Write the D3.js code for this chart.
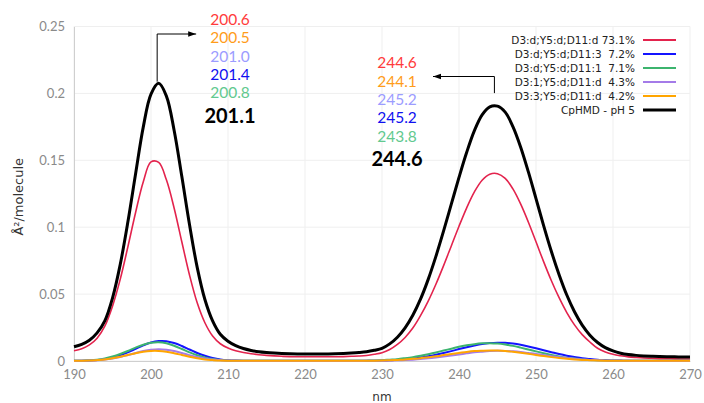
<!DOCTYPE html>
<html><head><meta charset="utf-8">
<script src="https://cdn.jsdelivr.net/npm/d3@7"></script>
<style>body{margin:0;background:#fff}svg{display:block}</style>
</head><body>
<svg id="c" width="704" height="403"></svg>
<script>
// ---- data ----
const wavelengths = [190,191,192,193,194,195,196,197,198,199,200,201,202,203,204,205,206,207,208,209,210,211,212,213,214,215,216,217,218,219,220,221,222,223,224,225,226,227,228,229,230,231,232,233,234,235,236,237,238,239,240,241,242,243,244,245,246,247,248,249,250,251,252,253,254,255,256,257,258,259,260,261,262,263,264,265,266,267,268,269,270];
const cphmd = [0.0107,0.0125,0.0155,0.021,0.030,0.047,0.072,0.104,0.140,0.175,0.1995,0.2075,0.198,0.1725,0.138,0.102,0.070,0.046,0.030,0.020,0.0148,0.0115,0.0093,0.0079,0.0069,0.0063,0.0059,0.0056,0.0054,0.0053,0.0052,0.0052,0.0052,0.0053,0.0054,0.0056,0.0059,0.0063,0.0069,0.0080,0.0095,0.0128,0.0178,0.0248,0.0342,0.0462,0.0610,0.0782,0.0972,0.1172,0.1372,0.1560,0.1722,0.1840,0.1900,0.1905,0.1860,0.1752,0.1600,0.1415,0.1214,0.1010,0.0818,0.0645,0.0493,0.0368,0.0268,0.0193,0.0138,0.0100,0.0075,0.0058,0.0048,0.0042,0.0038,0.0035,0.0033,0.0032,0.0031,0.0030,0.0029];
const s731 = [0.0077,0.0092,0.0120,0.017,0.026,0.041,0.061,0.0854,0.111,0.134,0.1488,0.1484,0.1354,0.1144,0.0891,0.0643,0.0435,0.0286,0.0187,0.0129,0.0097,0.0076,0.0063,0.0054,0.0047,0.0042,0.0038,0.0035,0.0033,0.0032,0.0032,0.0032,0.0032,0.0032,0.0032,0.0033,0.0035,0.0037,0.0041,0.0050,0.0062,0.0086,0.0124,0.0176,0.0246,0.0339,0.0448,0.0574,0.0713,0.0860,0.1007,0.1145,0.1264,0.1351,0.1396,0.1400,0.1365,0.1286,0.1174,0.1039,0.0891,0.0741,0.0600,0.0473,0.0362,0.0270,0.0197,0.0142,0.0095,0.0068,0.0050,0.0039,0.0031,0.0026,0.0022,0.0020,0.0018,0.0017,0.0016,0.0015,0.0015];
const s72 = [0.0001,0.00014,0.0003,0.0007,0.0014,0.0025,0.0042,0.0065,0.0091,0.0117,0.0138,0.0149,0.0148,0.0134,0.0112,0.0086,0.0060,0.0039,0.0023,0.0012,0.0006,0.0003,0.00015,
  0.0001,0.0001,0.0001,0.0001,0.0001,0.0001,0.0001,0.0001,0.0001,0.0001,0.0001,0.0001,0.0001,0.0001,
  0.0001,0.0001,0.0002,0.0003,0.0005,0.0009,0.0013,0.0018,0.0026,0.0036,0.0047,0.0060,0.0074,0.0089,0.0103,0.0116,0.0127,0.0134,0.0137,0.0136,0.0130,0.0121,0.0109,0.0095,0.0080,0.0066,0.0052,0.0040,0.0030,0.0021,0.0015,0.0010,0.0007,0.0004,0.0003,0.00015,
  0.0001,0.0001,0.0001,0.0001,0.0001,0.0001,0.0001,0.0001];
const s71 = [0.0001,0.0002,0.0005,0.0010,0.0019,0.0033,0.0052,0.0075,0.0100,0.0122,0.0136,0.0140,0.0132,0.0114,0.0090,0.0065,0.0043,0.0027,0.0015,0.0008,0.0004,0.0002,0.0001,
  0.0001,0.0001,0.0001,0.0001,0.0001,0.0001,0.0001,0.0001,0.0001,0.0001,0.0001,0.0001,0.0001,0.0001,
  0.00015,0.00025,0.0004,0.0006,0.0010,0.0014,0.0021,0.0029,0.0039,0.0050,0.0064,0.0078,0.0092,0.0106,0.0117,0.0126,0.0132,0.0133,0.0130,0.0123,0.0113,0.0100,0.0086,0.0072,0.0058,0.0045,0.0034,0.0025,0.0018,0.0012,0.0008,0.0005,0.0003,0.0002,0.0001,0.0001,
  0.0001,0.0001,0.0001,0.0001,0.0001,0.0001,0.0001,0.0001];
const s43 = [0.00005,0.0001,0.0003,0.0006,0.0011,0.0019,0.0030,0.0044,0.0060,0.0074,0.0084,0.0088,0.0084,0.0074,0.0060,0.0044,0.0030,0.0019,0.0011,0.0006,0.0003,0.0001,0.00005,
  0.00005,0.00005,0.00005,0.00005,0.00005,0.00005,0.00005,0.00005,0.00005,0.00005,0.00005,0.00005,0.00005,0.00005,
  0.00005,0.0001,0.0001,0.0002,0.0003,0.0005,0.0007,0.0010,0.0014,0.0020,0.0026,0.0033,0.0041,0.0049,0.0057,0.0065,0.0070,0.0074,0.0076,0.0075,0.0072,0.0067,0.0060,0.0053,0.0044,0.0036,0.0029,0.0022,0.0016,0.0012,0.0008,0.0006,0.0004,0.0002,0.0001,0.0001,
  0.00005,0.00005,0.00005,0.00005,0.00005,0.00005,0.00005,0.00005];
const s42 = [0.0001,0.00015,0.0003,0.0007,0.0012,0.0021,0.0032,0.0045,0.0058,0.0069,0.0075,0.0075,0.0069,0.0058,0.0045,0.0032,0.0021,0.0012,0.0007,0.0003,0.00015,0.0001,0.0001,
  0.0001,0.0001,0.0001,0.0001,0.0001,0.0001,0.0001,0.0001,0.0001,0.0001,0.0001,0.0001,0.0001,0.0001,
  0.0001,0.0001,0.0002,0.0003,0.0005,0.0008,0.0011,0.0016,0.0021,0.0028,0.0035,0.0044,0.0052,0.0060,0.0068,0.0074,0.0077,0.0079,0.0078,0.0075,0.0069,0.0062,0.0054,0.0045,0.0037,0.0029,0.0022,0.0017,0.0012,0.0008,0.0006,0.0004,0.0002,0.0001,0.0001,0.0001,
  0.0001,0.0001,0.0001,0.0001,0.0001,0.0001,0.0001,0.0001];

const seriesNames = ["D3:d;Y5:d;D11:d 73.1%","D3:d;Y5:d;D11:3  7.2%","D3:d;Y5:d;D11:1  7.1%","D3:1;Y5:d;D11:d  4.3%","D3:3;Y5:d;D11:d  4.2%","CpHMD - pH 5"];
const seriesValues = [s731, s72, s71, s43, s42, cphmd];
const lineColors = ["#e3234d","#1414ff","#3cb46e","#a47be8","#ffa500","#000000"];
const lineWidths = [1.6,2,2,2,2,3];

const xTicks = [190,200,210,220,230,240,250,260,270];
const yTicks = [0,0.05,0.1,0.15,0.2,0.25];
const yTickLabels = ["0","0.05","0.1","0.15","0.2","0.25"];

const peak1Labels = ["200.6","200.5","201.0","201.4","200.8"];
const peak1Total = "201.1";
const peak2Labels = ["244.6","244.1","245.2","245.2","243.8"];
const peak2Total = "244.6";
const labelColors = ["#ff3b3b","#ff9c1a","#9c9cff","#1010f0","#62c98f"];
const peak1Anchor = [200.8, 0.208];
const peak2Anchor = [244.6, 0.192];

// ---- layout ----
const W = 704, H = 403;
const m = {left:74, right:14, top:26.5, bottom:42};
const svg = d3.select("#c");
const x = d3.scaleLinear().domain([190,270]).range([m.left, W-m.right]);
const y = d3.scaleLinear().domain([0,0.25]).range([H-m.bottom, m.top]);

// grid
const grid = svg.append("g");
grid.selectAll("line.v").data(xTicks).join("line")
  .attr("x1",d=>x(d)).attr("x2",d=>x(d)).attr("y1",y(0)).attr("y2",y(0.25))
  .attr("stroke","#efefef").attr("stroke-width",1);
grid.selectAll("line.h").data(yTicks).join("line")
  .attr("x1",x(190)).attr("x2",x(270)).attr("y1",d=>y(d)).attr("y2",d=>y(d))
  .attr("stroke","#efefef").attr("stroke-width",1);

// axes
const xAxis = svg.append("g").attr("transform",`translate(0,${y(0)})`)
  .call(d3.axisBottom(x).tickValues(xTicks).tickSize(0).tickPadding(9).tickFormat(d3.format("d")));
const yAxis = svg.append("g").attr("transform",`translate(${x(190)},0)`)
  .call(d3.axisLeft(y).tickValues(yTicks).tickSize(0).tickPadding(9).tickFormat((d,i)=>yTickLabels[i]));
[xAxis,yAxis].forEach(a=>{
  a.select(".domain").attr("stroke","#cfcfcf");
  a.selectAll("text").attr("fill","#8a8a8a").style("font-family","Lato").style("font-size","13px");
});

// axis titles
svg.append("text").attr("x",382).attr("y",401).attr("text-anchor","middle")
  .style("font-family","DejaVu Sans").style("font-size","12px").attr("fill","#333").text("nm");
svg.append("text").attr("transform",`translate(23,${(y(0)+y(0.25))/2+3}) rotate(-90)`).attr("text-anchor","middle")
  .style("font-family","DejaVu Sans").style("font-size","13px").attr("fill","#333").text("Å²/molecule");

// lines
const line = d3.line().x((d,i)=>x(wavelengths[i])).y(d=>y(d)).curve(d3.curveCatmullRom.alpha(0.5));
svg.append("g").selectAll("path").data(seriesValues).join("path")
  .attr("d",d=>line(d)).attr("fill","none")
  .attr("stroke",(d,i)=>lineColors[i]).attr("stroke-width",(d,i)=>lineWidths[i])
  .attr("stroke-linejoin","round");

// legend
const lg = svg.append("g");
seriesNames.forEach((n,i)=>{
  const yy = 40 + i*14;
  lg.append("text").attr("x",635).attr("y",yy+4).attr("text-anchor","end")
    .style("font-family","DejaVu Sans").style("font-size","10.5px").style("white-space","pre")
    .attr("fill","#222").attr("xml:space","preserve").text(n);
  lg.append("line").attr("x1",643).attr("x2",676).attr("y1",yy).attr("y2",yy)
    .attr("stroke",lineColors[i]).attr("stroke-width",i===5?3:2);
});

// annotations
const defs = svg.append("defs");
defs.append("marker").attr("id","arr").attr("viewBox","0 0 10 10").attr("refX",10).attr("refY",5)
  .attr("markerWidth",8).attr("markerHeight",8).attr("orient","auto-start-reverse")
  .append("path").attr("d","M0,1.5L10,5L0,8.5Z").attr("fill","#000");

const px1 = x(peak1Anchor[0]), px2 = x(peak2Anchor[0]);
svg.append("path").attr("d",`M${px1},${y(peak1Anchor[1])-1}V34H${px1+39}`)
  .attr("fill","none").attr("stroke","#000").attr("stroke-width",1).attr("marker-end","url(#arr)");
svg.append("path").attr("d",`M${px2},${y(peak2Anchor[1])-11}V76.5H433`)
  .attr("fill","none").attr("stroke","#000").attr("stroke-width",1).attr("marker-end","url(#arr)");

function labelBlock(cx, y0, labels, total){
  labels.forEach((t,i)=>{
    svg.append("text").attr("x",cx).attr("y",y0+i*18.3).attr("text-anchor","middle")
      .attr("dominant-baseline","central")
      .style("font-family","Lato").style("font-size","15.5px").attr("fill",labelColors[i]).text(t);
  });
  svg.append("text").attr("x",cx).attr("y",y0+5*18.3+4).attr("text-anchor","middle")
    .attr("dominant-baseline","central")
    .style("font-family","Lato").style("font-weight","bold").style("font-size","20px").attr("fill","#000").text(total);
}
labelBlock(230, 19, peak1Labels, peak1Total);
labelBlock(397, 62.3, peak2Labels, peak2Total);
</script>
</body></html>
